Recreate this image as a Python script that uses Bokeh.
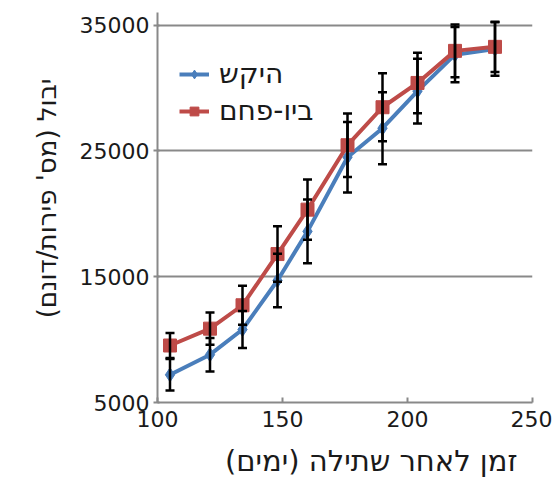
from bokeh.plotting import figure
from bokeh.models import (ColumnDataSource, Whisker, TeeHead, Legend, LegendItem,
                          Title, FixedTicker, Range1d)
from bokeh.embed import file_html
from bokeh.resources import INLINE

# Data
days = [105, 121, 134, 148, 160, 176, 190, 204, 219, 235]
hikash = [7200, 8800, 10800, 14700, 18600, 24500, 26800, 29750, 32650, 33100]
hikash_err = [1250, 1330, 1470, 2130, 2540, 2800, 2860, 2570, 2190, 2130]
bio = [9530, 10870, 12730, 16800, 20330, 25450, 28470, 30400, 32950, 33270]
bio_err = [1000, 1280, 1550, 2200, 2400, 2530, 2710, 2400, 2100, 2000]

x_ticks = [100, 150, 200, 250]
y_ticks = [5000, 15000, 25000, 35000]

label_hikash = "היקש"
label_bio = "ביו-פחם"
x_title = "זמן לאחר שתילה (ימים)\u200f"
y_title = "יבול (מס' פירות/דונם)\u200f"

BLUE = "#4A7EBB"
RED = "#BE4B48"
AXIS = "#898989"
FONT = "DejaVu Sans"
TXT = "#1a1a1a"

src_h = ColumnDataSource(dict(x=days, y=hikash,
                              lo=[v - e for v, e in zip(hikash, hikash_err)],
                              hi=[v + e for v, e in zip(hikash, hikash_err)]))
src_b = ColumnDataSource(dict(x=days, y=bio,
                              lo=[v - e for v, e in zip(bio, bio_err)],
                              hi=[v + e for v, e in zip(bio, bio_err)]))

p = figure(width=552, height=490, output_backend="svg", toolbar_location=None,
           x_range=Range1d(100, 250), y_range=Range1d(5000, 36000),
           min_border_left=157, min_border_right=20, min_border_top=12,
           min_border_bottom=88)
p.outline_line_color = None
p.background_fill_color = "white"
p.border_fill_color = "white"

# grid
p.xgrid.visible = False
p.ygrid.ticker = FixedTicker(ticks=y_ticks)
p.ygrid.grid_line_color = AXIS
p.ygrid.grid_line_width = 2

# axes
for ax in (p.xaxis[0], p.yaxis[0]):
    ax.axis_line_color = AXIS
    ax.axis_line_width = 2
    ax.major_tick_line_color = AXIS
    ax.major_tick_line_width = 2
    ax.minor_tick_line_color = None
    ax.major_label_text_font = FONT
    ax.major_label_text_font_size = "22px"
    ax.major_label_text_color = TXT
p.xaxis.ticker = FixedTicker(ticks=x_ticks)
p.yaxis.ticker = FixedTicker(ticks=y_ticks)
p.xaxis.major_tick_in = 5
p.xaxis.major_tick_out = 0
p.xaxis.major_label_standoff = 8
p.yaxis.major_tick_in = 2
p.yaxis.major_tick_out = 4
p.yaxis.major_label_standoff = 4

# axis titles
yt = Title(text=y_title, align="right", offset=66, standoff=30,
           text_font=FONT, text_font_size="26px", text_font_style="normal",
           text_color=TXT)
p.add_layout(yt, "left")

xt = Title(text=x_title, align="right", offset=15, standoff=25,
           text_font=FONT, text_font_size="29px", text_font_style="normal",
           text_color=TXT)
p.add_layout(xt, "below")

# series lines and markers
lh = p.line("x", "y", source=src_h, line_color=BLUE, line_width=4)
mh = p.scatter("x", "y", source=src_h, marker="diamond", size=14,
               fill_color=BLUE, line_color=BLUE)
lb = p.line("x", "y", source=src_b, line_color=RED, line_width=4)
mb = p.scatter("x", "y", source=src_b, marker="square", size=13,
               fill_color=RED, line_color=RED)

# error bars
for src in (src_h, src_b):
    w = Whisker(source=src, base="x", upper="hi", lower="lo", dimension="height",
                line_color="black", line_width=2.5, level="annotation",
                upper_head=TeeHead(size=9, line_color="black", line_width=2.5),
                lower_head=TeeHead(size=9, line_color="black", line_width=2.5))
    p.add_layout(w)

legend = Legend(items=[LegendItem(label=label_hikash, renderers=[lh, mh]),
                       LegendItem(label=label_bio, renderers=[lb, mb])],
                location=(22, 275), border_line_color=None,
                background_fill_alpha=0, glyph_width=30, glyph_height=22,
                label_standoff=10, spacing=4, padding=0, margin=0,
                label_text_font=FONT, label_text_font_size="28px",
                label_text_color=TXT)
p.add_layout(legend)

open("out.html", "w").write(file_html(p, INLINE))
